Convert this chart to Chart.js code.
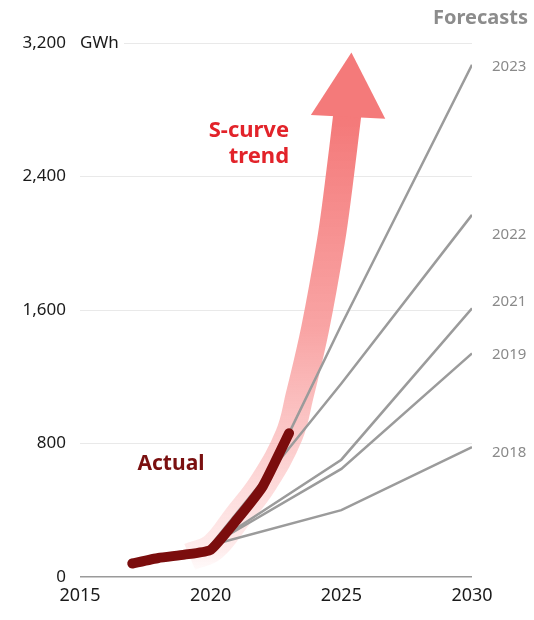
<!DOCTYPE html>
<html><head><meta charset="utf-8">
<script src="https://cdn.jsdelivr.net/npm/chart.js@4"></script>
<style>html,body{margin:0;padding:0;background:#fff;}#wrap{width:534px;height:620px;position:relative;}</style>
</head><body><div id="wrap"><canvas id="c" width="534" height="620"></canvas></div>
<script>
// ---- data ----
const actualYears = [2017, 2018, 2019, 2020, 2021, 2022, 2023];
const actualValues = [81, 114, 134, 163, 343, 545, 862];

const forecastYears = [2020, 2025, 2030];
const forecast2018 = [190, 401, 778];
const forecast2019 = [190, 648, 1340];
const forecast2021 = [190, 703, 1610];
const forecast2022 = [190, 1160, 2170];
const forecast2023Years = [2023, 2025, 2030];
const forecast2023 = [862, 1510, 3070];

const forecastNames = ['2023', '2022', '2021', '2019', '2018'];
const forecastLabelValues = [3060, 2050, 1650, 1330, 743];

const trendYears = [2019.2, 2020.1, 2021, 2022, 2023, 2023.4, 2024, 2024.6, 2024.9, 2025.25];
const trendValues = [120, 180, 355, 560, 850, 1085, 1490, 2010, 2350, 2800];
const arrowYear = [2025.3];
const arrowValue = [2886];

const xTicks = [2015, 2020, 2025, 2030];
const yTicks = [0, 800, 1600, 2400, 3200];

const FONT = '"Noto Sans", sans-serif';
const pts = (xs, ys) => xs.map((v, i) => ({x: v, y: ys[i]}));

function trendGradient(context) {
  const chart = context.chart;
  const area = chart.chartArea;
  if (!area) return 'rgba(244,120,120,0.8)';
  const g = chart.ctx.createLinearGradient(0, area.bottom, 0, area.top);
  g.addColorStop(0.0, 'rgba(255,215,215,0)');
  g.addColorStop(0.05, 'rgba(253,200,200,0.35)');
  g.addColorStop(0.25, 'rgba(250,175,175,0.65)');
  g.addColorStop(0.46, 'rgba(248,155,155,0.9)');
  g.addColorStop(0.85, 'rgba(244,122,122,1)');
  g.addColorStop(1.0, 'rgba(244,120,120,1)');
  return g;
}

const grayLine = (name, xs, ys) => ({
  label: 'Forecast ' + name,
  data: pts(xs, ys),
  borderColor: '#9b9b9b',
  borderWidth: 2.5,
  pointRadius: 0,
  tension: 0,
  order: 1
});

const zeroPad = s => { s.paddingTop = 0; s.paddingBottom = 0; s.paddingLeft = 0; s.paddingRight = 0; };

const annot = {
  id: 'annot',
  afterDraw(chart) {
    const {ctx, scales: {x, y}} = chart;
    ctx.save();
    ctx.textBaseline = 'middle';
    const gy = y.getPixelForValue(3200);
    ctx.fillStyle = '#fff';
    ctx.fillRect(x.left - 2, gy - 3, 46, 6);
    ctx.font = '17px ' + FONT;
    ctx.fillStyle = '#1a1a1a';
    ctx.textAlign = 'left';
    ctx.fillText('GWh', x.left, gy);
    ctx.font = 'bold 20px ' + FONT;
    ctx.fillStyle = '#8c8c8c';
    ctx.textAlign = 'right';
    ctx.fillText('Forecasts', chart.width - 6, 18);
    ctx.font = '15px ' + FONT;
    ctx.fillStyle = '#8a8a8a';
    ctx.textAlign = 'left';
    forecastNames.forEach((n, i) => {
      ctx.fillText(n, x.getPixelForValue(2030) + 20, y.getPixelForValue(forecastLabelValues[i]));
    });
    ctx.font = 'bold 22px ' + FONT;
    ctx.fillStyle = '#e2232a';
    ctx.textAlign = 'right';
    ctx.fillText('S-curve', x.getPixelForValue(2023.0), y.getPixelForValue(2677));
    ctx.fillText('trend', x.getPixelForValue(2023.0), y.getPixelForValue(2520));
    ctx.font = 'bold 21px ' + FONT;
    ctx.fillStyle = '#7a1010';
    ctx.textAlign = 'left';
    ctx.fillText('Actual', x.getPixelForValue(2017.2), y.getPixelForValue(680));
    ctx.restore();
  }
};

new Chart(document.getElementById('c'), {
  type: 'line',
  data: {
    datasets: [
      {
        label: 'Actual',
        data: pts(actualYears, actualValues),
        borderColor: '#7b0d0d',
        borderWidth: 10,
        borderCapStyle: 'round',
        borderJoinStyle: 'round',
        pointRadius: 0,
        tension: 0.15,
        order: 0
      },
      grayLine('2018', forecastYears, forecast2018),
      grayLine('2019', forecastYears, forecast2019),
      grayLine('2021', forecastYears, forecast2021),
      grayLine('2022', forecastYears, forecast2022),
      grayLine('2023', forecast2023Years, forecast2023),
      {
        label: 'Arrow head',
        data: pts(arrowYear, arrowValue),
        showLine: false,
        pointStyle: 'triangle',
        pointRadius: 43,
        pointRotation: 3,
        pointBackgroundColor: '#f47a7a',
        pointBorderColor: '#f47a7a',
        pointBorderWidth: 0,
        clip: false,
        order: 2
      },
      {
        label: 'S-curve trend',
        data: pts(trendYears, trendValues),
        borderColor: trendGradient,
        borderWidth: 28,
        borderCapStyle: 'butt',
        pointRadius: 0,
        tension: 0.4,
        clip: false,
        order: 3
      }
    ]
  },
  options: {
    responsive: false,
    animation: false,
    devicePixelRatio: 1,
    layout: {padding: {left: 0, right: 62, top: 35, bottom: 0}},
    plugins: {legend: {display: false}, tooltip: {enabled: false}},
    scales: {
      x: {
        type: 'linear',
        min: 2015, max: 2030,
        afterBuildTicks: s => { s.ticks = xTicks.map(v => ({value: v})); },
        afterFit: s => { s.height = 34; zeroPad(s); },
        ticks: {
          callback: v => String(v),
          font: {family: FONT, size: 18},
          color: '#1a1a1a',
          padding: 8,
          maxRotation: 0
        },
        grid: {display: false, drawTicks: false},
        border: {display: false}
      },
      y: {
        min: 0, max: 3200,
        afterBuildTicks: s => { s.ticks = yTicks.map(v => ({value: v})); },
        afterFit: s => { s.width = 80; zeroPad(s); },
        ticks: {
          callback: v => v.toLocaleString('en-US'),
          font: {family: FONT, size: 17},
          color: '#1a1a1a',
          padding: 14
        },
        grid: {
          drawTicks: false,
          color: c => c.tick && c.tick.value === 0 ? '#9a9a9a' : '#e9e9e9',
          lineWidth: c => c.tick && c.tick.value === 0 ? 1.5 : 1
        },
        border: {display: false}
      }
    }
  },
  plugins: [annot]
});
</script></body></html>
